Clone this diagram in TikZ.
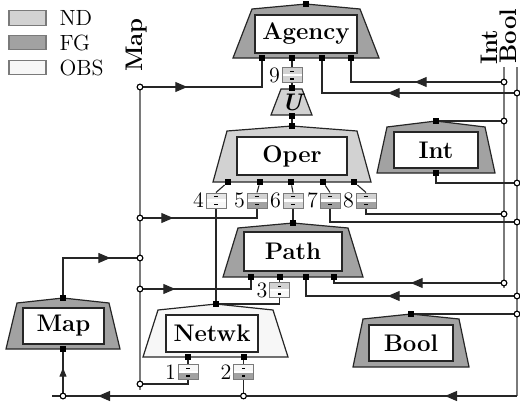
\documentclass[tikz,border=0pt]{standalone}
\usetikzlibrary{arrows.meta,decorations.markings}
\definecolor{ndgray}{HTML}{D2D2D2}
\definecolor{fggray}{HTML}{A2A2A2}
\definecolor{obsgray}{HTML}{F7F7F7}
\definecolor{paletop}{HTML}{E6E6E6}
\definecolor{busgray}{HTML}{7A7A7A}
\definecolor{wirec}{HTML}{262626}
\tikzset{
  modfill/.style={draw=black!85, line width=0.6pt, fill=#1},
  modbox/.style={draw=black!85, fill=white, line width=0.6pt, inner sep=0pt, font=\large\bfseries},
  pinsq/.style={fill=black, draw=none, minimum size=3pt, inner sep=0pt},
  junc/.style={circle, draw=black, fill=white, line width=0.5pt, minimum size=2.8pt, inner sep=0pt},
  wire/.style={draw=wirec, line width=0.55pt},
  bus/.style={draw=busgray, line width=0.7pt},
  tipat/.style={postaction={decorate}, decoration={markings,
      mark=at position #1 with {\arrow{Triangle[length=6pt,width=5pt]}}}},
  smalltipat/.style={postaction={decorate}, decoration={markings,
      mark=at position #1 with {\arrow{Triangle[length=4.5pt,width=3.5pt]}}}},
  pbox/.style 2 args={draw=busgray, line width=0.5pt, minimum width=10pt,
    minimum height=7.5pt, inner sep=0pt,
    path picture={
      \fill[#1] (path picture bounding box.north west) rectangle (path picture bounding box.east);
      \fill[#2] (path picture bounding box.west) rectangle (path picture bounding box.south east);
      \fill[white] ([yshift=0.6pt]path picture bounding box.west) rectangle ([yshift=-0.6pt]path picture bounding box.east);
      \fill[black] ([xshift=-0.9pt,yshift=-1.5pt]path picture bounding box.north) rectangle ([xshift=0.9pt,yshift=-2.2pt]path picture bounding box.north);
      \fill[black] ([xshift=-0.9pt,yshift=1.5pt]path picture bounding box.south) rectangle ([xshift=0.9pt,yshift=2.2pt]path picture bounding box.south);
    }},
  plabel/.style={anchor=east, inner sep=0.6pt, font=\fontsize{11}{12}\selectfont},
  legbox/.style={draw=busgray, line width=0.6pt, minimum width=18.5pt, minimum height=7.3pt, inner sep=0pt},
  legtext/.style={anchor=west, inner sep=0pt, font=\fontsize{11}{12}\selectfont},
  buslabel/.style={rotate=90, inner sep=0pt, font=\large\bfseries},
}
\begin{document}
\begin{tikzpicture}[x=0.5pt,y=-0.5pt]
\useasboundingbox (0,0) rectangle (520,403);

% ---------- legend ----------
\node[legbox, fill=ndgray]  (leg-nd)  at (27.5,18) {};
\node[legbox, fill=fggray]  (leg-fg)  at (27.5,42.5) {};
\node[legbox, fill=obsgray] (leg-obs) at (27.5,67.5) {};
\node[legtext] (leg-nd-t)  at ([xshift=6.3pt]leg-nd.east)  {ND};
\node[legtext] (leg-fg-t)  at ([xshift=6.3pt]leg-fg.east)  {FG};
\node[legtext] (leg-obs-t) at ([xshift=6.3pt]leg-obs.east) {OBS};

% ---------- bus labels ----------
\node[buslabel] (lbl-map)  at (137,45)  {Map};
\node[buslabel] (lbl-int)  at (489,47)  {Int};
\node[buslabel] (lbl-bool) at (508.5,36) {Bool};

% ---------- bus lines ----------
\coordinate (mb-top) at (140,87);
\coordinate (mb-bot) at (140,390);
\coordinate (ib-top) at (504,67);
\coordinate (ib-bot) at (504,288);
\coordinate (bb-top) at (517,67);
\coordinate (bb-end) at (517,396);
\coordinate (bl-end) at (52,396);
\draw[bus] (mb-top) -- (mb-bot);
\draw[bus] (ib-top) -- (ib-bot);
\draw[bus] (bb-top) -- (bb-end);

% ---------- modules ----------
% Agency
\filldraw[modfill=fggray] (233,58) -- (252,9) -- (306,4) -- (360,9) -- (379,58) -- cycle;
\node[modbox, minimum width=51pt, minimum height=19pt] (agency) at (306,34) {Agency};
% U
\filldraw[modfill=ndgray] (271,115) -- (281,89) -- (302,89) -- (312,115) -- cycle;
\node[inner sep=0pt, font=\large\bfseries\itshape] (u) at (292,102) {U};
% Oper
\filldraw[modfill=ndgray] (213,182) -- (227,131) -- (292,126) -- (357,131) -- (371,182) -- cycle;
\node[modbox, minimum width=55pt, minimum height=19pt] (oper) at (292,156) {Oper};
% Int
\filldraw[modfill=fggray] (377,173) -- (387,127) -- (436,121) -- (485,127) -- (495,173) -- cycle;
\node[modbox, minimum width=42pt, minimum height=18pt] (int) at (436,150) {Int};
% Path
\filldraw[modfill=fggray] (223,277) -- (238,228) -- (293,223) -- (348,228) -- (363,277) -- cycle;
\node[modbox, minimum width=49pt, minimum height=19.5pt] (path) at (293,251.5) {Path};
% Map
\filldraw[modfill=fggray] (6,349) -- (17,303) -- (63,298) -- (109,303) -- (120,349) -- cycle;
\node[modbox, minimum width=40.5pt, minimum height=18pt] (map) at (63.5,326) {Map};
% Netwk
\filldraw[modfill=obsgray] (143,357) -- (158,310) -- (216,304) -- (273,310) -- (288,357) -- cycle;
\node[modbox, minimum width=46pt, minimum height=18.5pt] (netwk) at (212,333.5) {Netwk};
% Bool
\filldraw[modfill=fggray] (353,367) -- (363,319) -- (411,314) -- (459,319) -- (469,367) -- cycle;
\node[modbox, minimum width=42pt, minimum height=18pt] (bool) at (411,343) {Bool};

% ---------- port boxes ----------
\node[pbox={ndgray}{ndgray}]   (b9) at (292,75) {};
\node[pbox={paletop}{obsgray}] (b4) at (216,200.5) {};
\node[pbox={ndgray}{fggray}]   (b5) at (257,200.5) {};
\node[pbox={ndgray}{ndgray}]   (b6) at (293,200.5) {};
\node[pbox={ndgray}{fggray}]   (b7) at (330,200.5) {};
\node[pbox={ndgray}{fggray}]   (b8) at (366,200.5) {};
\node[pbox={ndgray}{obsgray}]  (b3) at (279.5,290) {};
\node[pbox={obsgray}{fggray}]  (b1) at (188,372) {};
\node[pbox={obsgray}{fggray}]  (b2) at (243.5,372) {};
\node[plabel] (b9-l) at (b9.west) {9};
\node[plabel] (b4-l) at (b4.west) {4};
\node[plabel] (b5-l) at (b5.west) {5};
\node[plabel] (b6-l) at (b6.west) {6};
\node[plabel] (b7-l) at (b7.west) {7};
\node[plabel] (b8-l) at (b8.west) {8};
\node[plabel] (b3-l) at (b3.west) {3};
\node[plabel] (b1-l) at (b1.west) {1};
\node[plabel] (b2-l) at (b2.west) {2};

% ---------- module pins ----------
\node[pinsq] (ag-t) at (306,4) {};
\node[pinsq] (ag-1) at (262,58) {};
\node[pinsq] (ag-2) at (292,58) {};
\node[pinsq] (ag-3) at (322,58) {};
\node[pinsq] (ag-4) at (351,58) {};
\node[pinsq] (u-t) at (292,88) {};
\node[pinsq] (u-b) at (292,116) {};
\node[pinsq] (op-t) at (292,126) {};
\node[pinsq] (op-1) at (228,182) {};
\node[pinsq] (op-2) at (260,182) {};
\node[pinsq] (op-3) at (291,182) {};
\node[pinsq] (op-4) at (323,182) {};
\node[pinsq] (op-5) at (354,182) {};
\node[pinsq] (in-t) at (436,121) {};
\node[pinsq] (in-b) at (436,173) {};
\node[pinsq] (pa-t) at (293,223) {};
\node[pinsq] (pa-1) at (251,277) {};
\node[pinsq] (pa-2) at (279.5,277) {};
\node[pinsq] (pa-3) at (306,277) {};
\node[pinsq] (pa-4) at (334,277) {};
\node[pinsq] (ma-t) at (63,298) {};
\node[pinsq] (ma-b) at (63,349) {};
\node[pinsq] (ne-t) at (216,304) {};
\node[pinsq] (ne-1) at (188,357) {};
\node[pinsq] (ne-2) at (243.5,357) {};
\node[pinsq] (bo-t) at (411,314) {};

% ---------- bus taps ----------
\node[junc] (mb87)  at (140,87) {};
\node[junc] (mb218) at (140,218) {};
\node[junc] (mb258) at (140,258) {};
\node[junc] (mb289) at (140,289) {};
\node[junc] (mb384) at (140,384) {};
\node[junc] (ib82)  at (504,82) {};
\node[junc] (ib121) at (504,121) {};
\node[junc] (ib214) at (504,214) {};
\node[junc] (ib283) at (504,283) {};
\node[junc] (bb93)  at (517,93) {};
\node[junc] (bb183) at (517,183) {};
\node[junc] (bb222) at (517,222) {};
\node[junc] (bb296) at (517,296) {};
\node[junc] (bb314) at (517,314) {};
\node[junc] (bl63)  at (63,396) {};
\node[junc] (bl243) at (243.5,396) {};

% ---------- connectors ----------
\draw[wire, tipat=22pt] (mb87) -| (ag-1);
\draw[wire] (ag-2) -- (b9.north);
\draw[wire] (b9.south) -- (u-t);
\draw[wire] (u-b) -- (op-t);
\draw[wire, tipat=63pt] (bb93) -| (ag-3);
\draw[wire, tipat=43pt] (ib82) -| (ag-4);
\draw[wire] (ib121) -- (in-t);
\draw[wire] (in-b) |- (bb183);
\draw[wire] (op-1) -- (b4.north);
\draw[wire] (op-2) -- (b5.north);
\draw[wire] (op-3) -- (b6.north);
\draw[wire] (op-4) -- (b7.north);
\draw[wire] (op-5) -- (b8.north);
\draw[wire, tipat=15pt] (mb218) -| (b5.south);
\draw[wire] (b6.south) -- (pa-t);
\draw[wire] (b7.south) |- (bb222);
\draw[wire] (b8.south) |- (ib214);
\draw[wire] (b4.south) -- (ne-t);
\draw[wire, tipat=16pt] (mb289) -| (pa-1);
\draw[wire] (pa-2) -- (b3.north);
\draw[wire] (b3.south) |- (ne-t);
\draw[wire, tipat=63pt] (bb296) -| (pa-3);
\draw[wire, tipat=45pt] (ib283) -| (pa-4);
\draw[wire] (bo-t) -- (bb314);
\draw[wire, tipat=42pt] (ma-t) |- (mb258);
\draw[wire] (ne-1) -- (b1.north);
\draw[wire] (ne-2) -- (b2.north);
\draw[wire] (b1.south) |- (mb384);
\draw[wire] (b2.south) -- (bl243);
\draw[wire, smalltipat=12.5pt] (bl63) -- (ma-b);
\draw[wire, postaction={decorate}, decoration={markings,
    mark=at position 36pt with {\arrow{Triangle[length=6pt,width=5pt]}},
    mark=at position 209.5pt with {\arrow{Triangle[length=6pt,width=5pt]}}}]
  (bb-end) -- (bl-end);

% taps and pins redrawn above the connectors
\foreach \j in {mb87,mb218,mb258,mb289,mb384,ib82,ib121,ib214,ib283,bb93,bb183,bb222,bb296,bb314,bl63,bl243}
  \node[junc] at (\j) {};
\foreach \p in {ag-1,ag-2,ag-3,ag-4,u-t,u-b,op-t,op-1,op-2,op-3,op-4,op-5,in-t,in-b,pa-t,pa-1,pa-2,pa-3,pa-4,ma-t,ma-b,ne-t,ne-1,ne-2,bo-t}
  \node[pinsq] at (\p) {};
\end{tikzpicture}
\end{document}
